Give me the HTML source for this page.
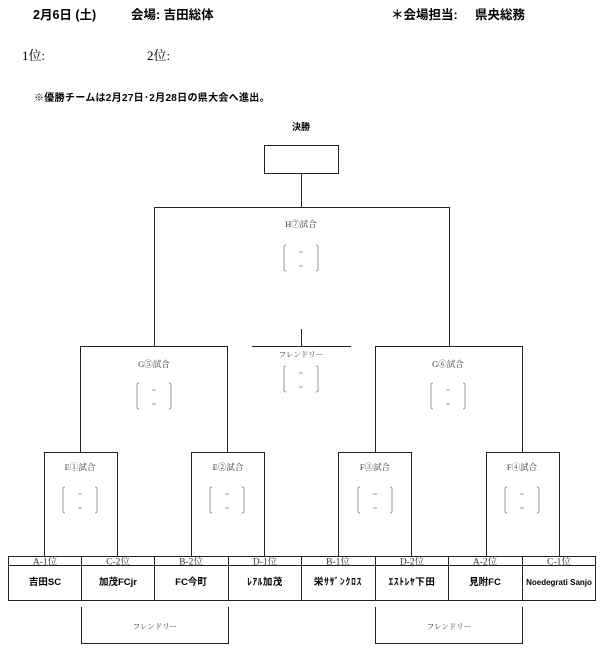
<!DOCTYPE html>
<html><head><meta charset="utf-8"><style>
html,body{margin:0;padding:0;background:#fff;}
svg{display:block;}
.b{font-family:"Liberation Sans","Noto Sans CJK JP",sans-serif;font-weight:bold;fill:#000;}
.s{font-family:"Liberation Serif","Noto Serif CJK SC",serif;fill:#333;}
</style></head><body>
<svg width="600" height="651" viewBox="0 0 600 651" xmlns="http://www.w3.org/2000/svg">
<g class="b" font-size="12.5">
<text x="33" y="19">2月6日 (土)</text>
<text x="131" y="19">会場: 吉田総体</text>
<text x="391" y="19">＊会場担当:</text>
<text x="475" y="19">県央総務</text>
</g>
<g class="s" font-size="13" style="fill:#000">
<text x="22" y="60">1位:</text>
<text x="147" y="60">2位:</text>
</g>
<text class="b" x="34" y="101" font-size="10" letter-spacing="0.3">※優勝チームは2月27日･2月28日の県大会へ進出。</text>
<text class="b" x="301" y="130" font-size="9" text-anchor="middle">決勝</text>
<g fill="none" stroke="#222" stroke-width="1">
<rect x="264.5" y="145.5" width="74" height="28"/>
<path d="M301.5 173 V207.5 M154.5 346 V207.5 H449.5 V346"/>
<path d="M252 346.5 H351 M301.5 329 V346.5"/>
<path d="M80.5 452 V346.5 H227.5 V452"/>
<path d="M375.5 452 V346.5 H522.5 V452"/>
<path d="M44.5 556 V452.5 H117.5 V556"/>
<path d="M191.5 556 V452.5 H264.5 V556"/>
<path d="M338.5 556 V452.5 H411.5 V556"/>
<path d="M486.5 556 V452.5 H559.5 V556"/>
<rect x="8.5" y="556.5" width="587" height="44"/>
<path d="M8 565.5 H595"/>
<path d="M81.5 556 V600 M154.5 556 V600 M228.5 556 V600 M301.5 556 V600 M375.5 556 V600 M448.5 556 V600 M522.5 556 V600"/>
<path d="M81.5 607 V643.5 H228.5 V607"/>
<path d="M375.5 607 V643.5 H522.5 V607"/>
</g>
<g class="s" font-size="8.5" text-anchor="middle">
<text x="301" y="227">H⑦試合</text>
<text x="301" y="357" font-size="7.5">フレンドリー</text>
<text x="154" y="367">G⑤試合</text>
<text x="448" y="367">G⑥試合</text>
<text x="80" y="470">E①試合</text>
<text x="228" y="470">E②試合</text>
<text x="375" y="470">F③試合</text>
<text x="522" y="470">F④試合</text>
<g font-size="9.5">
<text x="45" y="564.5">A-1位</text><text x="118" y="564.5">C-2位</text>
<text x="191" y="564.5">B-2位</text><text x="265" y="564.5">D-1位</text>
<text x="338" y="564.5">B-1位</text><text x="412" y="564.5">D-2位</text>
<text x="485" y="564.5">A-2位</text><text x="559" y="564.5">C-1位</text>
</g>
<text x="155" y="629" font-size="7.5">フレンドリー</text>
<text x="449" y="629" font-size="7.5">フレンドリー</text>
</g>
<g fill="none" stroke="#999" stroke-width="1">
<path d="M286 245 q-2 0 -2 2 v22 q0 2 2 2 M316 245 q2 0 2 2 v22 q0 2 -2 2"/>
<path d="M286 366 q-2 0 -2 2 v22 q0 2 2 2 M316 366 q2 0 2 2 v22 q0 2 -2 2"/>
<path d="M139 383 q-2 0 -2 2 v22 q0 2 2 2 M169 383 q2 0 2 2 v22 q0 2 -2 2"/>
<path d="M433 383 q-2 0 -2 2 v22 q0 2 2 2 M463 383 q2 0 2 2 v22 q0 2 -2 2"/>
<path d="M65 487 q-2 0 -2 2 v22 q0 2 2 2 M95 487 q2 0 2 2 v22 q0 2 -2 2"/>
<path d="M212 487 q-2 0 -2 2 v22 q0 2 2 2 M242 487 q2 0 2 2 v22 q0 2 -2 2"/>
<path d="M360 487 q-2 0 -2 2 v22 q0 2 2 2 M390 487 q2 0 2 2 v22 q0 2 -2 2"/>
<path d="M507 487 q-2 0 -2 2 v22 q0 2 2 2 M537 487 q2 0 2 2 v22 q0 2 -2 2"/>
<path d="M299 252h4 M299 266h4 M299 373h4 M299 387h4 M152 390h4 M152 404h4 M446 390h4 M446 404h4 M78 494h4 M78 508h4 M225 494h4 M225 508h4 M373 494h4 M373 508h4 M520 494h4 M520 508h4"/>
</g>
<g class="b" font-size="9.5" text-anchor="middle">
<text x="45" y="585">吉田SC</text>
<text x="118" y="585">加茂FCjr</text>
<text x="191" y="585">FC今町</text>
<text x="265" y="585" letter-spacing="0.5">ﾚｱﾙ加茂</text>
<text x="338" y="585" letter-spacing="0.8">栄ｻｻﾞﾝｸﾛｽ</text>
<text x="412" y="585" letter-spacing="0.6">ｴｽﾄﾚﾔ下田</text>
<text x="485" y="585">見附FC</text>
<text x="559" y="585" font-size="8">Noedegrati Sanjo</text>
</g>
</svg>
</body></html>
